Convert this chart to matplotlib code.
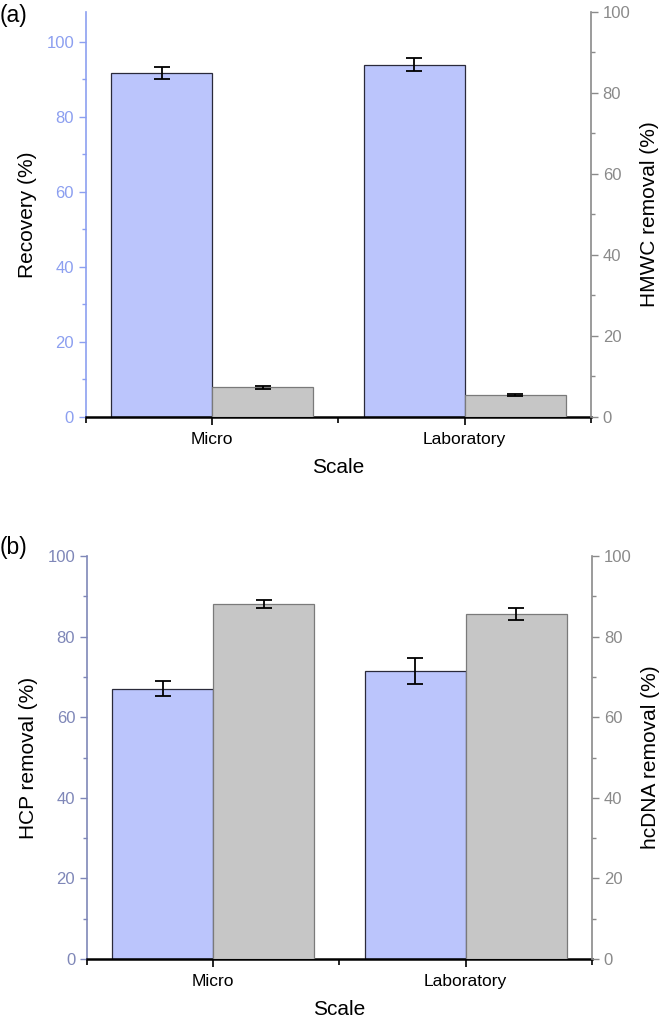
import numpy as np
import matplotlib.pyplot as plt
from matplotlib.ticker import MultipleLocator

plt.rcParams['font.family'] = ['Liberation Sans', 'DejaVu Sans']

# data
scales = ['Micro', 'Laboratory']

recovery = [91.7, 93.9]
recovery_err = [1.5, 1.7]
hmwc = [7.3, 5.4]
hmwc_err = [0.4, 0.2]

hcp = [67.1, 71.4]
hcp_err = [1.8, 3.2]
hcdna = [88.1, 85.7]
hcdna_err = [1.0, 1.5]

blue = '#bbc5fc'
gray = '#c6c6c6'
right_col = '#8a8a8a'
w = 0.4
x = np.arange(1, len(scales) + 1)


def panel(rect, left_vals, left_err, right_vals, right_err, left_top,
          left_col, left_label, right_label, tag, tag_y):
    ax = fig.add_axes(rect)
    ax2 = ax.twinx()
    ax.bar(x - w/2, left_vals, w, color=blue, edgecolor='#2a2a3a', linewidth=0.9, zorder=2)
    ax.errorbar(x - w/2, left_vals, yerr=left_err, fmt='none', ecolor='black',
                elinewidth=1.3, capsize=5.5, capthick=1.3, zorder=3)
    ax2.bar(x + w/2, right_vals, w, color=gray, edgecolor='#7a7a7a', linewidth=0.9, zorder=2)
    ax2.errorbar(x + w/2, right_vals, yerr=right_err, fmt='none', ecolor='black',
                 elinewidth=1.3, capsize=5.5, capthick=1.3, zorder=3)

    ax.set_xlim(0.5, 2.5)
    ax.set_ylim(0, left_top)
    ax2.set_ylim(0, 100)
    ax.set_xticks(x)
    ax.set_xticklabels(scales, fontsize=12.5)
    ax.set_xticks([0.5, 1.5, 2.5], minor=True)
    ax.tick_params(axis='x', which='major', length=6, width=1.2, direction='out',
                   color='black', pad=5)
    ax.tick_params(axis='x', which='minor', length=4, width=1.2, direction='out', color='black')

    for a, c in ((ax, left_col), (ax2, right_col)):
        a.yaxis.set_major_locator(MultipleLocator(20))
        a.yaxis.set_minor_locator(MultipleLocator(10))
        a.tick_params(axis='y', which='major', length=5, width=1.0, colors=c, labelsize=12)
        a.tick_params(axis='y', which='minor', length=3, width=1.0, color=c)
        a.spines['top'].set_visible(False)

    ax.spines['right'].set_visible(False)
    ax.spines['left'].set_color(left_col)
    ax.spines['left'].set_linewidth(1.2)
    ax2.spines['left'].set_visible(False)
    ax2.spines['right'].set_color(right_col)
    ax2.spines['right'].set_linewidth(1.2)
    ax2.spines['bottom'].set_visible(False)
    ax.spines['bottom'].set_color('black')
    ax.spines['bottom'].set_linewidth(1.8)
    ax.spines['bottom'].set_zorder(5)

    ax.set_xlabel('Scale', fontsize=15, labelpad=8)
    ax.set_ylabel(left_label, fontsize=15, labelpad=7)
    ax2.set_ylabel(right_label, fontsize=15, labelpad=7)
    fig.text(0.0, tag_y, tag, fontsize=16.5, va='center', ha='left')
    return ax, ax2


fig = plt.figure(figsize=(6.61, 10.23), dpi=100)

panel([0.130, 0.5924, 0.764, 0.396], recovery, recovery_err, hmwc, hmwc_err, 108,
      '#8c9ff0', 'Recovery (%)', 'HMWC removal (%)', '(a)', 0.985)
panel([0.1316, 0.0625, 0.764, 0.394], hcp, hcp_err, hcdna, hcdna_err, 100,
      '#7f87b8', 'HCP removal (%)', 'hcDNA removal (%)', '(b)', 0.465)

fig.savefig('out.png', dpi=100)
